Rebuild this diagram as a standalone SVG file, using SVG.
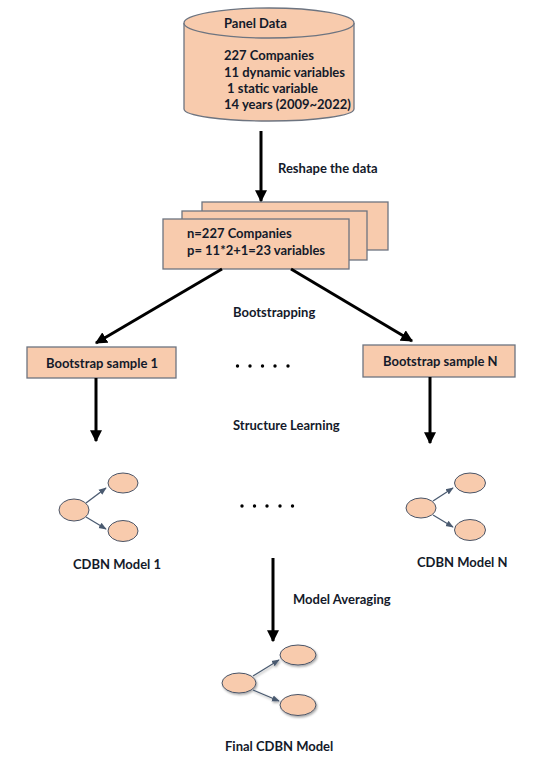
<svg xmlns="http://www.w3.org/2000/svg" width="548" height="765" viewBox="0 0 548 765">
<style>
text{font-family:Lato,"Liberation Sans",sans-serif;font-weight:bold;font-size:13px;fill:#141a2a}
.box{fill:#F8CBAD;stroke:#6d7480;stroke-width:1.3}
.node{fill:#F8CBAD;stroke:#4a5568;stroke-width:1}
.con{stroke:#000;stroke-width:3;fill:none}
.edge{stroke:#4a5a70;stroke-width:1.3;fill:none}
.dot{fill:#000}
</style>
<defs>
<marker id="ah" viewBox="0 0 10 10" refX="9" refY="5" markerWidth="4" markerHeight="4" orient="auto" markerUnits="strokeWidth">
<path d="M0,0 L10,5 L0,10 z" fill="#000"/>
</marker>
<marker id="sh" viewBox="0 0 10 10" refX="9" refY="5" markerWidth="6" markerHeight="6" orient="auto" markerUnits="strokeWidth">
<path d="M0,1 L10,5 L0,9 z" fill="#4a5a70"/>
</marker>
<filter id="shd" x="-30%" y="-30%" width="160%" height="160%">
<feDropShadow dx="1" dy="1.5" stdDeviation="1" flood-color="#000" flood-opacity="0.35"/>
</filter>
</defs>

<g id="panel-data">
<path class="box" d="M184,23 L184,109 A85,12 0 0 0 354,109 L354,23"/>
<ellipse class="box" cx="269" cy="23" rx="85" ry="15"/>
<text x="224" y="28">Panel Data</text>
<text x="224" y="60">227 Companies</text>
<text x="224" y="77">11 dynamic variables</text>
<text x="227" y="93">1 static variable</text>
<text x="224" y="109">14 years (2009~2022)</text>
</g>

<g id="reshaped-data">
<rect class="box" x="202" y="202" width="186" height="48"/>
<rect class="box" x="182" y="211" width="185" height="49"/>
<rect class="box" x="163" y="219" width="186" height="50"/>
<text x="187" y="238">n=227 Companies</text>
<text x="187" y="255">p= 11*2+1=23 variables</text>
</g>

<g id="bootstrap-1">
<rect class="box" x="27" y="347" width="149" height="31"/>
<text x="46" y="368">Bootstrap sample 1</text>
</g>

<g id="bootstrap-n">
<rect class="box" x="363" y="345" width="152" height="32"/>
<text x="383" y="366">Bootstrap sample N</text>
</g>

<g id="cdbn-1">
<ellipse class="node" cx="74" cy="510" rx="15" ry="11"/>
<ellipse class="node" cx="123" cy="483" rx="15" ry="10"/>
<ellipse class="node" cx="123" cy="531" rx="15" ry="10.5"/>
<path class="edge" d="M86,503 L106,488" marker-end="url(#sh)"/>
<path class="edge" d="M86,517 L106,529" marker-end="url(#sh)"/>
<text x="73" y="569">CDBN Model 1</text>
</g>

<g id="cdbn-n">
<ellipse class="node" cx="421" cy="508" rx="15" ry="10"/>
<ellipse class="node" cx="470" cy="483" rx="15.5" ry="10"/>
<ellipse class="node" cx="470" cy="530" rx="15.5" ry="10.5"/>
<path class="edge" d="M433,501 L453,488" marker-end="url(#sh)"/>
<path class="edge" d="M433,515 L453,527" marker-end="url(#sh)"/>
<text x="417" y="567">CDBN Model N</text>
</g>

<g id="final-cdbn">
<g filter="url(#shd)">
<ellipse class="node" cx="239" cy="683" rx="17" ry="10"/>
<ellipse class="node" cx="298" cy="655" rx="18" ry="10"/>
<ellipse class="node" cx="298" cy="705" rx="18" ry="10.5"/>
<path class="edge" d="M253,676 L279,660" marker-end="url(#sh)"/>
<path class="edge" d="M253,690 L279,701" marker-end="url(#sh)"/>
</g>
<text x="225" y="751">Final CDBN Model</text>
</g>

<g id="labels">
<text x="278" y="173">Reshape the data</text>
<text x="233" y="317">Bootstrapping</text>
<text x="233" y="430">Structure Learning</text>
<text x="293" y="604">Model Averaging</text>
</g>

<g id="dots">
<circle class="dot" cx="237.5" cy="366" r="1.7"/>
<circle class="dot" cx="250" cy="366" r="1.7"/>
<circle class="dot" cx="262.5" cy="366" r="1.7"/>
<circle class="dot" cx="275" cy="366" r="1.7"/>
<circle class="dot" cx="288" cy="366" r="1.7"/>
<circle class="dot" cx="242" cy="506" r="1.7"/>
<circle class="dot" cx="254.5" cy="506" r="1.7"/>
<circle class="dot" cx="267" cy="506" r="1.7"/>
<circle class="dot" cx="280" cy="506" r="1.7"/>
<circle class="dot" cx="292.5" cy="506" r="1.7"/>
</g>

<g id="connectors">
<path class="con" d="M261,131 L261,201" marker-end="url(#ah)"/>
<path class="con" d="M222,269 L96,343" marker-end="url(#ah)"/>
<path class="con" d="M291,269 L412,341" marker-end="url(#ah)"/>
<path class="con" d="M96,378 L96,441" marker-end="url(#ah)"/>
<path class="con" d="M430,377 L430,443" marker-end="url(#ah)"/>
<path class="con" d="M273,558 L273,641" marker-end="url(#ah)"/>
</g>
</svg>
